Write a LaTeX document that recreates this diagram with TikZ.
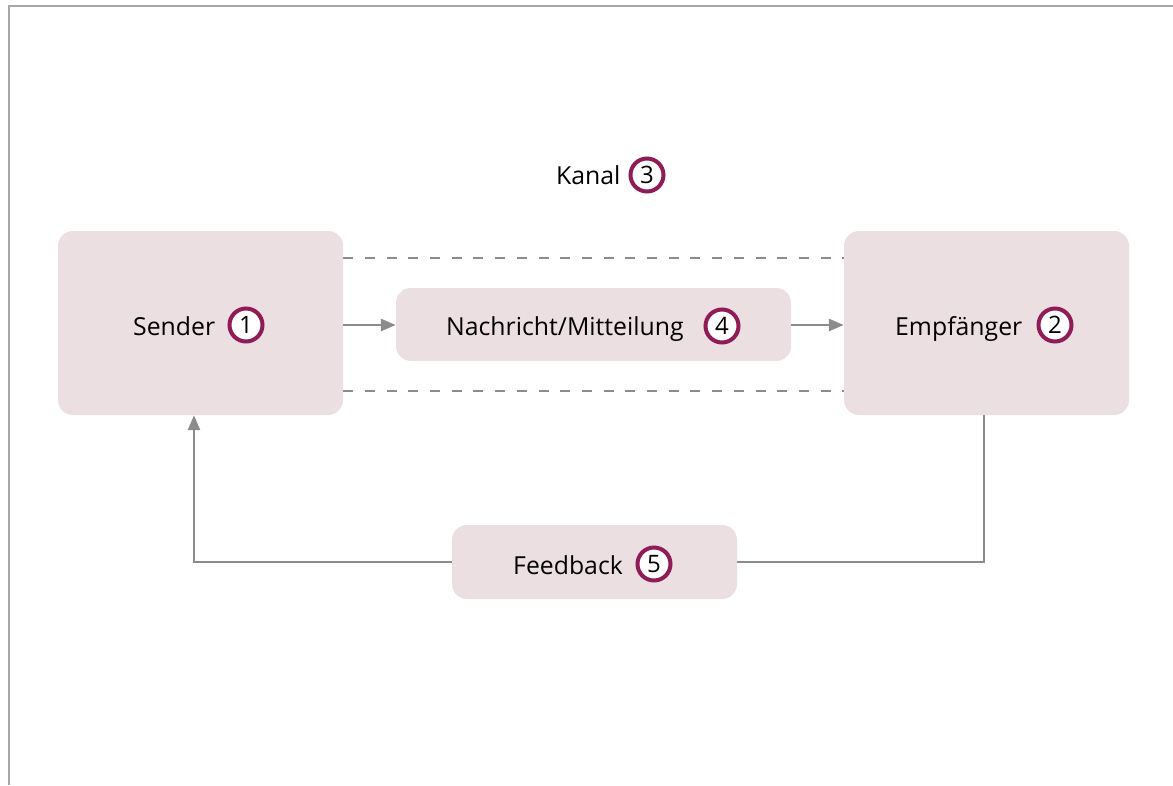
\documentclass[tikz,border=0pt]{standalone}
\usepackage{fontspec}
\setmainfont{Open Sans}
\usetikzlibrary{arrows.meta}
\definecolor{boxfill}{RGB}{236,223,226}
\definecolor{numcol}{RGB}{143,27,87}
\definecolor{linecol}{RGB}{140,140,140}
\definecolor{framecol}{RGB}{166,166,166}
\tikzset{
  box/.style={fill=boxfill, draw=none, rounded corners=15pt, inner sep=0pt},
  lbl/.style={font=\fontsize{24.8}{28}\selectfont, text=black, inner sep=0pt, anchor=base west},
  num/.style={circle, draw=numcol, line width=4pt, fill=white, minimum size=33pt, inner sep=0pt, font=\fontsize{24}{28}\selectfont},
  conn/.style={draw=linecol, line width=2.6pt},
  arr/.style={conn, -{Triangle[length=15pt, width=12pt]}},
  chan/.style={draw=linecol, line width=2.5pt, dash pattern=on 10pt off 11.7pt}
}
\begin{document}
\begin{tikzpicture}[x=1pt,y=-1pt]
\useasboundingbox (0,0) rectangle (1173,785);
\fill[white] (0,0) rectangle (1173,785);
\draw[framecol, line width=2pt] (9,785) -- (9,6) -- (1173,6);
% boxes
\node[box, minimum width=285pt, minimum height=184pt] (sender) at (200.5,323) {};
\node[box, minimum width=395pt, minimum height=73pt] (msg) at (593.5,324.5) {};
\node[box, minimum width=285pt, minimum height=184pt] (recv) at (986.5,323) {};
\node[box, minimum width=285pt, minimum height=74pt] (fb) at (594.5,562) {};
% labels
\node[lbl] (tsender) at (133,335) {Sender};
\node[num] (n1) at (246,325) {1};
\node[lbl] (trecv) at (895,335) {Empfänger};
\node[num] (n2) at (1055,325) {2};
\node[lbl] (tkanal) at (556,184) {Kanal};
\node[num] (n3) at (647,175) {3};
\node[lbl] (tmsg) at (446,335) {Nachricht/Mitteilung};
\node[num] (n4) at (722,326) {4};
\node[lbl] (tfb) at (513,574) {Feedback};
\node[num] (n5) at (654,564) {5};
% channel lines
\coordinate (c1a) at (sender.east |- 0,258);
\coordinate (c1b) at (recv.west |- 0,258);
\coordinate (c2a) at (sender.east |- 0,391);
\coordinate (c2b) at (recv.west |- 0,391);
\draw[chan] (c1a) -- (c1b);
\draw[chan] (c2a) -- (c2b);
% arrows
\draw[arr] (sender.east |- 0,325) -- (msg.west |- 0,325);
\draw[arr] (msg.east |- 0,325) -- (recv.west |- 0,325);
% feedback loop
\coordinate (r1) at (984,415);
\coordinate (s1) at (194,415);
\draw[conn] (recv.south -| r1) |- (fb.east);
\draw[arr] (fb.west) -| (sender.south -| s1);
\end{tikzpicture}
\end{document}
